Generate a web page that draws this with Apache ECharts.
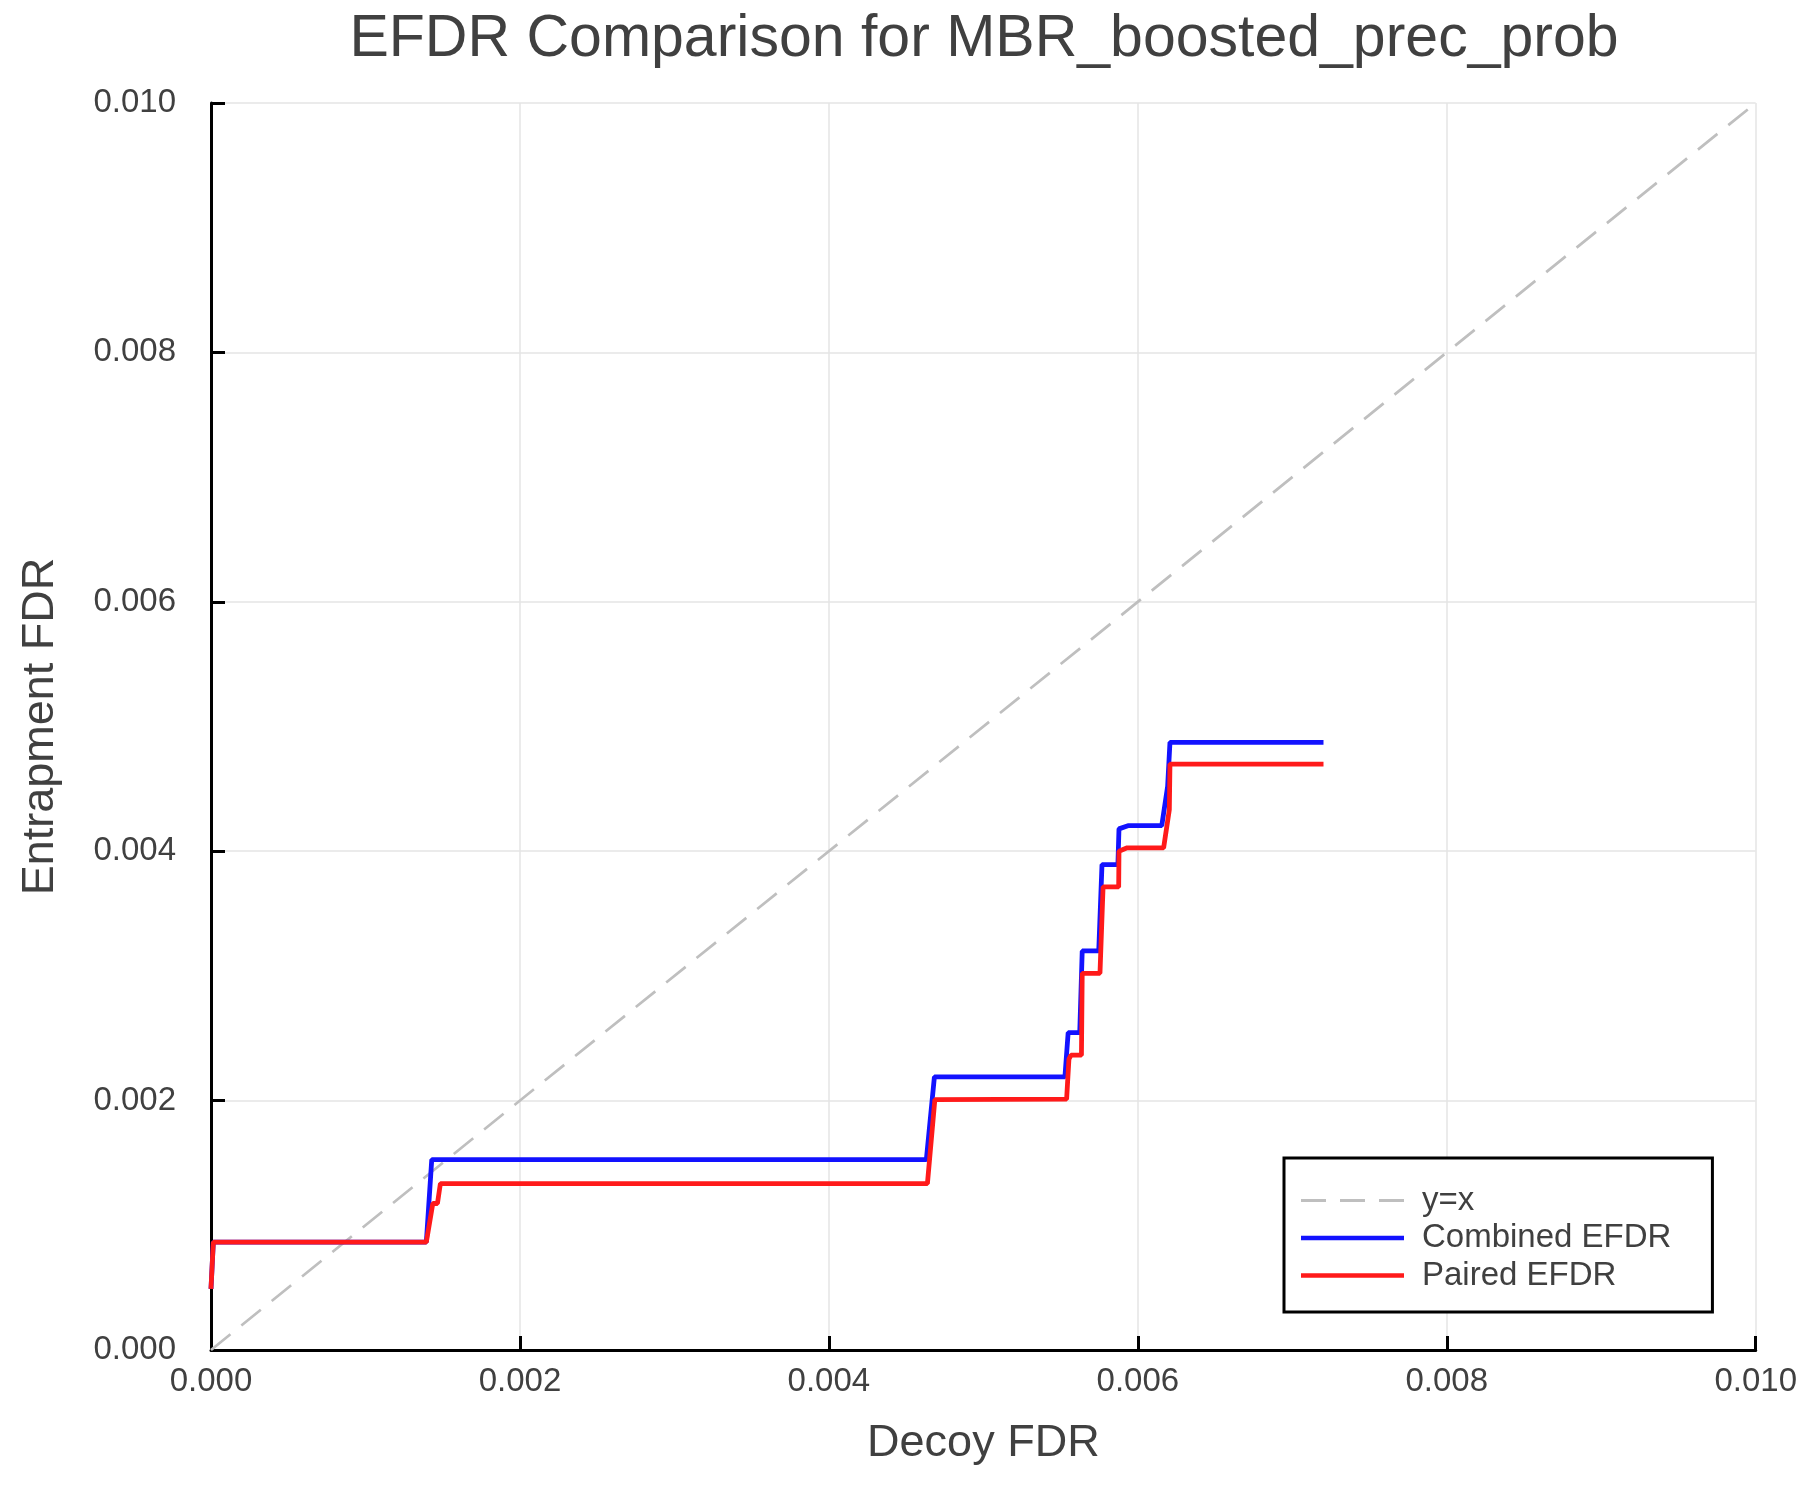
<!DOCTYPE html>
<html>
<head>
<meta charset="utf-8">
<script src="https://cdn.jsdelivr.net/npm/echarts@6/dist/echarts.min.js"></script>
<style>
html,body{margin:0;padding:0;background:#fff;}
#chart{width:1800px;height:1500px;}
</style>
</head>
<body>
<div id="chart"></div>
<script>
// ---- data ----
const titleText = 'EFDR Comparison for MBR_boosted_prec_prob';
const xAxisName = 'Decoy FDR';
const yAxisName = 'Entrapment FDR';
const seriesNames = ['y=x', 'Combined EFDR', 'Paired EFDR'];

const diagX = [0, 0.01];
const diagY = [0, 0.01];

const combinedX = [0, 0.000015, 0.001394, 0.001429, 0.004631, 0.004683, 0.005528, 0.005549, 0.005624, 0.00564, 0.005747, 0.005768, 0.005871, 0.005878, 0.005936, 0.006155, 0.006193, 0.006208, 0.007202];
const combinedY = [0.00049, 0.000865, 0.000865, 0.001527, 0.001527, 0.00219, 0.00219, 0.002545, 0.002545, 0.0032, 0.0032, 0.003893, 0.003893, 0.004179, 0.004205, 0.004205, 0.00452, 0.004873, 0.004873];

const pairedX = [0, 0.000015, 0.001394, 0.001436, 0.001466, 0.001485, 0.004638, 0.004686, 0.005539, 0.005554, 0.005567, 0.005635, 0.00564, 0.005755, 0.005775, 0.005876, 0.005878, 0.005931, 0.006167, 0.006204, 0.006208, 0.007202];
const pairedY = [0.00049, 0.000865, 0.000865, 0.001175, 0.001175, 0.001335, 0.001335, 0.002008, 0.002012, 0.002332, 0.002364, 0.002364, 0.003021, 0.003021, 0.003714, 0.003714, 0.004, 0.004027, 0.004027, 0.004334, 0.004699, 0.004699];

const axisMin = 0, axisMax = 0.01, axisStep = 0.002;

// ---- build ----
const zip = (xs, ys) => xs.map((x, i) => [x, ys[i]]);
const FONT = '"Liberation Sans", Arial, Helvetica, sans-serif';
const TXT = '#404040';
const SOLID_ICON = 'path://M0,0H103V4.5H0Z';
const DASH_ICON = 'path://M0,0H25V3H0Z M39,0H64V3H39Z M78,0H103V3H78Z';

const axisCommon = {
  type: 'value', min: axisMin, max: axisMax, interval: axisStep,
  nameLocation: 'middle',
  nameTextStyle: {fontSize: 45, color: TXT, fontFamily: FONT},
  axisLine: {show: true, lineStyle: {color: '#000', width: 3}},
  axisTick: {show: true, inside: true, length: 14, lineStyle: {color: '#000', width: 3}},
  axisLabel: {fontSize: 33, color: TXT, fontFamily: FONT, formatter: v => v.toFixed(3)},
  splitLine: {show: true, lineStyle: {color: '#e5e5e5', width: 1.5}}
};

const chart = echarts.init(document.getElementById('chart'), null, {renderer: 'canvas'});
chart.setOption({
  backgroundColor: '#fff',
  animation: false,
  title: {
    text: titleText, left: 979, top: 5, textAlign: 'center',
    textStyle: {fontSize: 59, fontWeight: 'normal', color: TXT, fontFamily: FONT}
  },
  grid: {left: 211, right: 35, top: 103, bottom: 150, containLabel: false},
  xAxis: Object.assign({}, axisCommon, {
    name: xAxisName, nameGap: 71,
    axisLabel: Object.assign({}, axisCommon.axisLabel, {margin: 15})
  }),
  yAxis: Object.assign({}, axisCommon, {
    name: yAxisName, nameGap: 148,
    axisLabel: Object.assign({}, axisCommon.axisLabel, {margin: 35})
  }),
  legend: {
    show: true,
    orient: 'vertical', left: 1284, top: 1158,
    padding: [24.5, 41, 18.5, 17],
    itemGap: 1.5, itemWidth: 103, itemHeight: 4.5,
    backgroundColor: '#fff', borderColor: '#000', borderWidth: 3,
    textStyle: {fontSize: 33, color: TXT, fontFamily: FONT, lineHeight: 36, padding: [0, 0, 0, 13]},
    data: [
      {name: seriesNames[0], icon: DASH_ICON},
      {name: seriesNames[1], icon: SOLID_ICON},
      {name: seriesNames[2], icon: SOLID_ICON}
    ]
  },
  series: [
    {name: seriesNames[0], type: 'line', data: zip(diagX, diagY), symbol: 'none',
     lineStyle: {color: '#bfbfbf', width: 2.7, type: [25, 14]}, itemStyle: {color: '#bfbfbf'}},
    {name: seriesNames[1], type: 'line', data: zip(combinedX, combinedY), symbol: 'none',
     lineStyle: {color: '#1212ff', width: 4.8}, itemStyle: {color: '#1212ff'}},
    {name: seriesNames[2], type: 'line', data: zip(pairedX, pairedY), symbol: 'none',
     lineStyle: {color: '#ff1a1a', width: 4.8}, itemStyle: {color: '#ff1a1a'}}
  ]
});
</script>
</body>
</html>
